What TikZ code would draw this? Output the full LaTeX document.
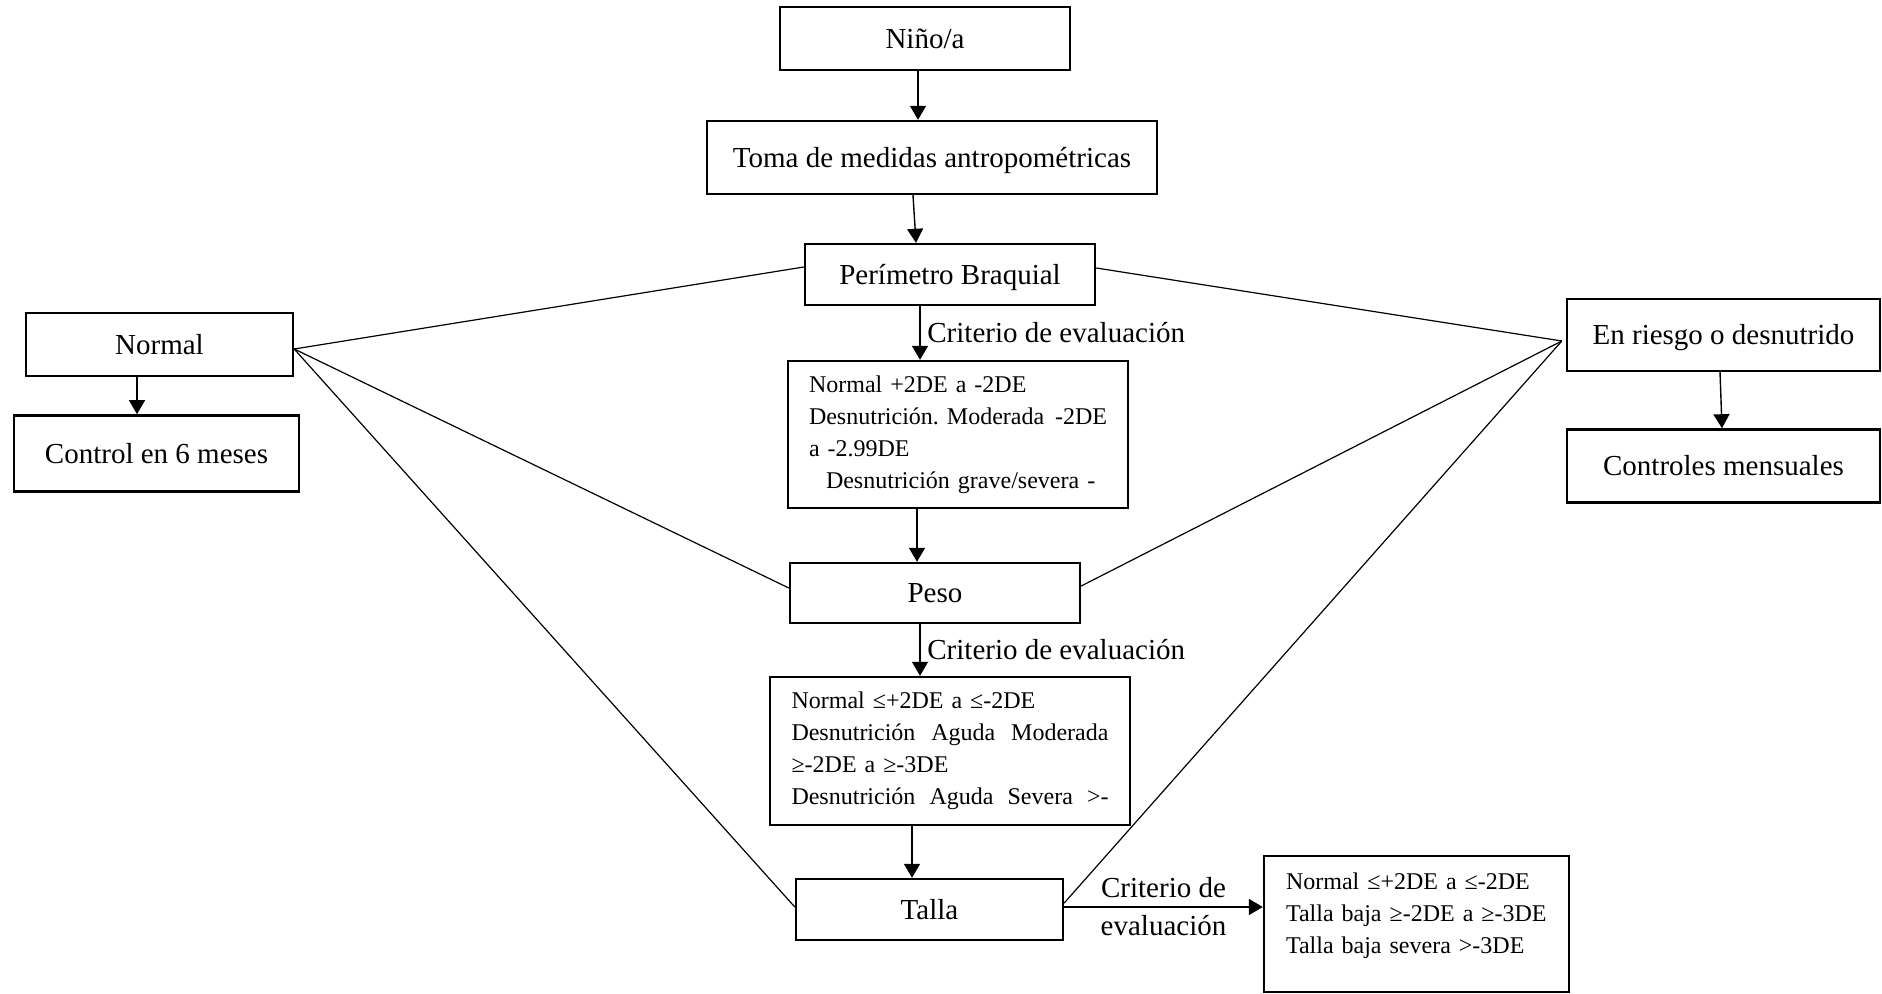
\documentclass[tikz,border=0pt]{standalone}
\usepackage{fontspec}
\setmainfont{Liberation Serif}
\usepackage{tikz}
\usetikzlibrary{positioning, arrows.meta}
\newcommand{\letragrande}{\fontsize{14.5}{19}\selectfont}
\newcommand{\letrachica}{\fontsize{12}{16}\selectfont}

\begin{document}
\begin{tikzpicture}[x=0.5pt, y=-0.5pt,
    caja/.style={draw, line width=1.2pt, inner sep=0pt, font=\letragrande, text height=11.6pt, text depth=1.8pt},
    cajatexto/.style={draw, line width=1.2pt, inner sep=0pt, font=\letrachica, align=left},
    flecha/.style={line width=0.7pt, -{Triangle[width=8pt,length=7pt]}},
    linea/.style={line width=0.6pt}]
    \useasboundingbox (0,0) rectangle (1882,994);

    % columna central
    \node[caja, minimum width=145pt, minimum height=31.5pt] (nino) at (925,38.5) {Niño/a};
    \node[caja, minimum width=225pt, minimum height=36.5pt] (toma) at (932,157.5) {Toma de medidas antropométricas};
    \node[caja, minimum width=145pt, minimum height=30.5pt] (pb) at (950,274.5) {Perímetro Braquial};
    \node[cajatexto, minimum width=170pt, minimum height=73.5pt, text width=149pt] (critpb) at (958,434.5) {Normal +2DE a -2DE\\ \makebox[149pt][s]{Desnutrición.\ Moderada\hfill -2DE}\\ a -2.99DE\\ \hspace*{8.5pt}Desnutrición grave/severa -};
    \node[caja, minimum width=145pt, minimum height=30pt] (peso) at (935,593) {Peso};
    \node[cajatexto, minimum width=180pt, minimum height=74pt, text width=158.5pt] (critpeso) at (950,751) {Normal ≤+2DE a ≤-2DE\\ \makebox[158.5pt][s]{Desnutrición\hfill Aguda\hfill Moderada}\\ ≥-2DE a ≥-3DE\\ \makebox[158.5pt][s]{Desnutrición\hfill Aguda\hfill Severa\hfill >-}};
    \node[caja, minimum width=133.5pt, minimum height=30.5pt] (talla) at (929.5,909.5) {Talla};
    \node[cajatexto, minimum width=152.5pt, minimum height=68pt, text width=130.5pt] (crittalla) at (1416.5,924) {Normal ≤+2DE a ≤-2DE\\ Talla baja ≥-2DE a ≥-3DE\\ Talla baja severa >-3DE\\[-5.3pt]\mbox{}};

    % resultados a los lados
    \node[caja, minimum width=133.5pt, minimum height=31.5pt] (normal) at (159.5,344.5) {Normal};
    \node[caja, minimum width=142.5pt, minimum height=38pt, below=18.5pt of normal, xshift=-1.5pt] (control) {Control en 6 meses};
    \node[caja, minimum width=156.5pt, minimum height=36pt] (riesgo) at (1723.5,335) {En riesgo o desnutrido};
    \node[caja, minimum width=156.5pt, minimum height=36.5pt, below=28pt of riesgo] (controles) {Controles mensuales};

    \draw[flecha] ([xshift=-3.5pt]nino.south) -- ([xshift=-7pt]toma.north);
    \draw[flecha] ([xshift=-9.5pt]toma.south) -- ([xshift=-17pt]pb.north);
    \draw[flecha] ([xshift=-15pt]pb.south) to node[midway,right,font=\letragrande]{Criterio de evaluación} ([xshift=-19pt]critpb.north);
    \draw[flecha] ([xshift=-20.5pt]critpb.south) -- ([xshift=-9pt]peso.north);
    \draw[flecha] ([xshift=-7.5pt]peso.south) to node[midway,right,font=\letragrande]{Criterio de evaluación} ([xshift=-15pt]critpeso.north);
    \draw[flecha] ([xshift=-19pt]critpeso.south) -- ([xshift=-8.75pt]talla.north);
    \draw[flecha] ([yshift=1.25pt]talla.east) to node[midway,align=center,font=\letragrande]{Criterio de\\evaluación} ([yshift=8.5pt]crittalla.west);
    \draw[flecha] ([xshift=-11.25pt]normal.south) -- ([xshift=-9.75pt]control.north);
    \draw[flecha] ([xshift=-1.75pt]riesgo.south) -- ([xshift=-0.75pt]controles.north);

    \draw[linea] ([yshift=-2.25pt]normal.east) -- ([yshift=3.75pt]pb.west);
    \draw[linea] ([yshift=-2.25pt]normal.east) -- ([yshift=2.5pt]peso.west);
    \draw[linea] ([yshift=-2.25pt]normal.east) -- ([yshift=1.25pt]talla.west);
    \draw[linea] ([xshift=-2pt,yshift=-3pt]riesgo.west) -- ([yshift=3.25pt]pb.east);
    \draw[linea] ([xshift=-2pt,yshift=-3pt]riesgo.west) -- ([yshift=3.5pt]peso.east);
    \draw[linea] ([xshift=-2pt,yshift=-3pt]riesgo.west) -- ([yshift=3.25pt]talla.east);
\end{tikzpicture}
\end{document}
